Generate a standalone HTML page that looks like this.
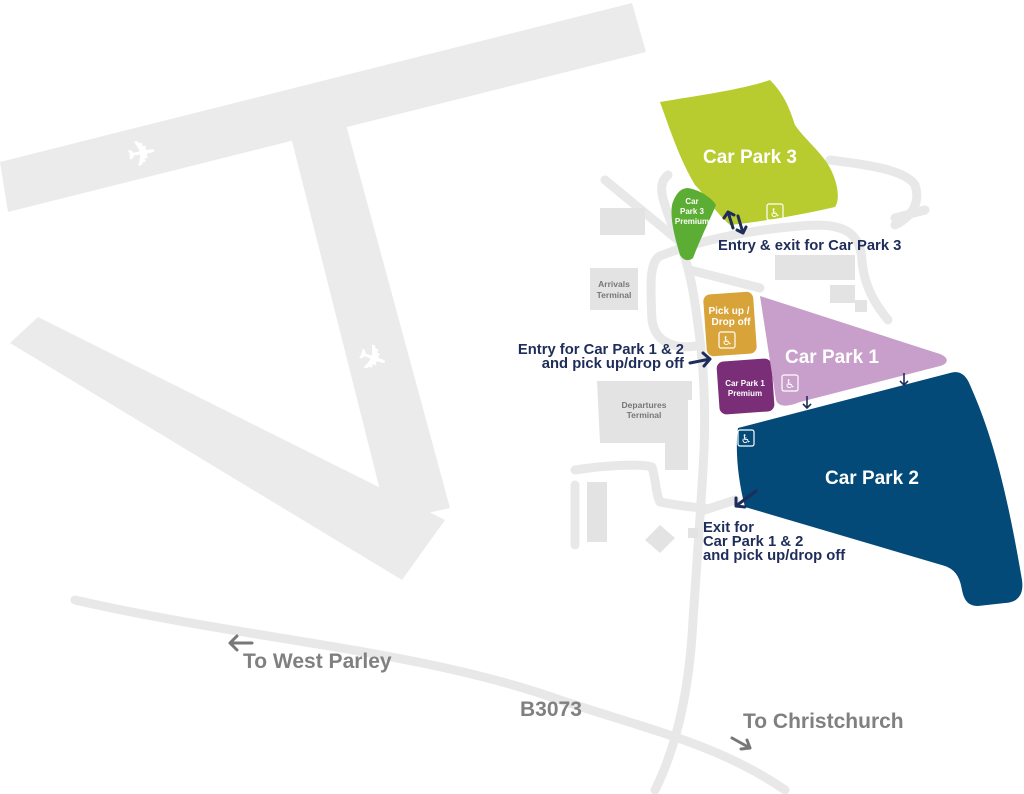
<!DOCTYPE html>
<html><head><meta charset="utf-8"><style>
html,body{margin:0;padding:0;background:#fff}
svg{display:block}
text{font-family:"Liberation Sans",sans-serif;font-weight:bold}
.wc{font-family:"DejaVu Sans",sans-serif;font-weight:normal}
</style></head><body>
<svg width="1024" height="794" viewBox="0 0 1024 794" xmlns="http://www.w3.org/2000/svg">
<g fill="#ebebeb">
<polygon points="0,162 632,3 646,52 8,212"/>
<polygon points="290,133 345,121 450,508 388,522"/>
<polygon points="10,343 38,317 445,520 402,580"/>
</g>
<text x="142" y="165" font-size="34" fill="#fff" text-anchor="middle" transform="rotate(-10 142 155)">✈</text>
<text x="372" y="370" font-size="34" fill="#fff" text-anchor="middle" transform="rotate(20 372 360)">✈</text>
<g fill="none" stroke="#e8e8e8" stroke-width="9" stroke-linecap="round" stroke-linejoin="round">
<path d="M75,600 C250,640 420,650 560,700 C650,730 720,745 785,790"/>
<path d="M655,790 C680,740 690,680 693,620 C697,560 700,520 703,470 C706,420 705,380 700,340 C695,300 690,260 672,225 C665,205 655,185 668,175"/>
<path d="M605,180 L690,250"/>
<path d="M652,320 C650,280 650,262 660,256 C700,240 750,230 800,226 C840,222 860,230 862,260 C864,290 880,310 888,320"/>
<path d="M690,270 L760,288"/>
<path d="M830,160 C870,165 905,170 915,185 C920,200 915,215 895,225"/>
<path d="M895,218 L925,210"/>
<path d="M575,485 L575,545"/>
<path d="M575,470 C600,466 640,463 652,467 C656,480 656,495 660,502 C680,506 700,508 705,508"/>
<path d="M705,510 L735,500"/>
<path d="M652,320 C655,345 680,350 700,345"/>
</g>
<g fill="#e3e3e3">
<rect x="600" y="208" width="45" height="27"/>
<rect x="590" y="268" width="48" height="42"/>
<polygon points="597,381 692,381 692,400 688,400 688,470 665,470 665,443 600,443"/>
<rect x="587" y="482" width="20" height="60"/>
<polygon points="660,525 675,538 660,553 645,540"/>
<rect x="688" y="528" width="10" height="10"/>
<rect x="775" y="255" width="80" height="25"/>
<rect x="830" y="285" width="25" height="18"/>
<rect x="855" y="300" width="12" height="12"/>
</g>
<text x="614" y="287" font-size="8.5" fill="#777" text-anchor="middle">Arrivals</text>
<text x="614" y="298" font-size="8.5" fill="#777" text-anchor="middle">Terminal</text>
<text x="644" y="408" font-size="8.5" fill="#777" text-anchor="middle">Departures</text>
<text x="644" y="418" font-size="8.5" fill="#777" text-anchor="middle">Terminal</text>
<path d="M660,102 C700,95 740,90 770,80 C785,95 790,110 795,125 C805,140 825,155 832,172 C838,185 840,200 835,207 C800,215 760,222 730,225 C715,212 705,195 695,185 C680,160 670,130 660,102 Z" fill="#b8cc2f"/>
<path d="M688,188 C700,190 712,198 716,205 C712,215 702,235 693,258 C688,262 683,260 680,255 C674,235 670,218 672,205 C675,195 680,188 688,188 Z" fill="#5cad33"/>
<rect x="705" y="293" width="50" height="62" rx="7" fill="#d8a338" transform="rotate(-4 730 324)"/>
<rect x="718" y="360" width="55" height="53" rx="7" fill="#7b2e78" transform="rotate(-4 745 386)"/>
<path d="M760,296 L940,354 C950,358 948,364 940,366 L800,402 C785,408 778,406 776,400 Z" fill="#c79fca"/>
<path d="M738,428 L950,373 C960,370 966,375 970,385 C990,430 1005,480 1022,580 C1024,595 1018,602 1005,603 L978,606 C968,606 964,600 962,590 C960,578 956,570 945,566 L745,507 C738,480 735,450 738,428 Z" fill="#034a78"/>
<g fill="#fff">
<text x="750" y="163" font-size="19" text-anchor="middle">Car Park 3</text>
<text x="692" y="204" font-size="8" text-anchor="middle">Car</text>
<text x="692" y="214" font-size="8" text-anchor="middle">Park 3</text>
<text x="692" y="224" font-size="8" text-anchor="middle">Premium</text>
<text x="729" y="314" font-size="10" text-anchor="middle">Pick up /</text>
<text x="731" y="325" font-size="10" text-anchor="middle">Drop off</text>
<text x="745" y="386" font-size="8" text-anchor="middle">Car Park 1</text>
<text x="745" y="396" font-size="8" text-anchor="middle">Premium</text>
<text x="832" y="363" font-size="19" text-anchor="middle">Car Park 1</text>
<text x="872" y="484" font-size="19" text-anchor="middle">Car Park 2</text>
</g>
<g fill="none" stroke="#fff" stroke-width="1.2">
<rect x="767" y="204" width="16" height="16" rx="2"/>
<rect x="719" y="332" width="16" height="16" rx="2"/>
<rect x="782" y="375" width="16" height="16" rx="2"/>
<rect x="738" y="430" width="16" height="16" rx="2"/>
</g>
<g fill="#fff" font-size="12" text-anchor="middle" class="wc">
<text class="wc" x="775" y="217">♿&#xFE0E;</text><text class="wc" x="727" y="345">♿&#xFE0E;</text><text class="wc" x="790" y="388">♿&#xFE0E;</text><text class="wc" x="746" y="443">♿&#xFE0E;</text>
</g>
<g fill="none" stroke="#1e2d5a" stroke-width="3" stroke-linecap="round" stroke-linejoin="round">
<path d="M733,228 L728,212 M724,218 L728,212 L734,215"/>
<path d="M738,216 L743,233 M737,230 L743,233 L746,227"/>
<path d="M690,363 L710,359 M703,353 L710,359 L704,366"/>
<path d="M756,491 L736,506 M736,498 L736,506 L745,507"/>
</g>
<g fill="none" stroke="#1e2d5a" stroke-width="1.6">
<path d="M807,396 L807,408 M803,404 L807,408 L811,404"/>
<path d="M904,373 L904,385 M900,381 L904,385 L908,381"/>
</g>
<g fill="#1e2d5a" font-size="14.8">
<text x="718" y="250">Entry &amp; exit for Car Park 3</text>
<text x="684" y="354" text-anchor="end">Entry for Car Park 1 &amp; 2</text>
<text x="684" y="368" text-anchor="end">and pick up/drop off</text>
<text x="703" y="532">Exit for</text>
<text x="703" y="546">Car Park 1 &amp; 2</text>
<text x="703" y="560">and pick up/drop off</text>
</g>
<g fill="#808080" font-size="21">
<text x="243" y="668">To West Parley</text>
<text x="743" y="728">To Christchurch</text>
<text x="520" y="716">B3073</text>
</g>
<g fill="none" stroke="#777" stroke-width="3" stroke-linecap="round" stroke-linejoin="round">
<path d="M252,643 L230,643 M237,636 L230,643 L237,650"/>
<path d="M732,738 L750,748 M741,749 L750,748 L747,740"/>
</g>
</svg>
</body></html>
